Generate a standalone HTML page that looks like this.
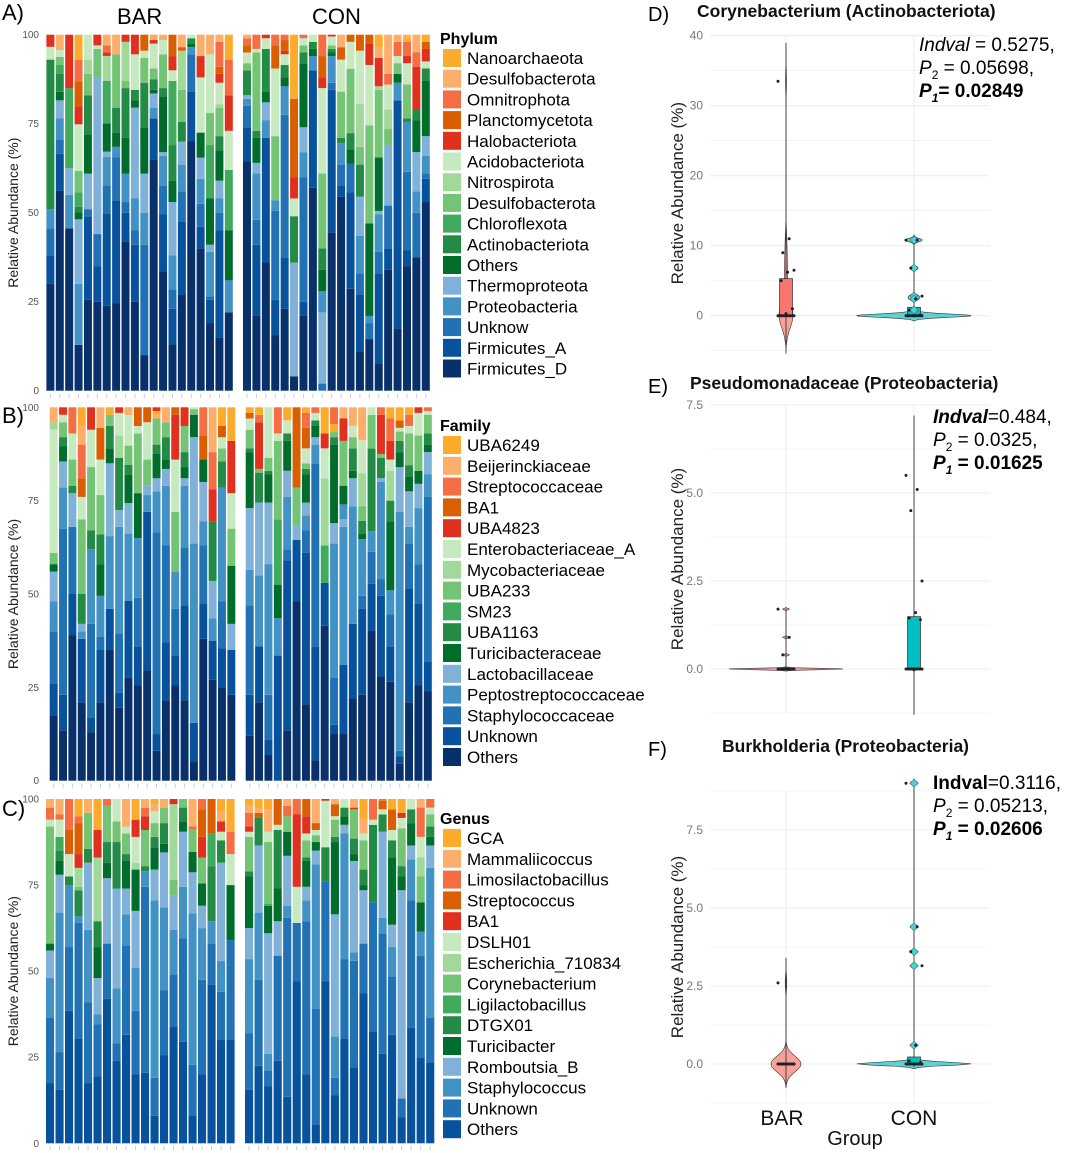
<!DOCTYPE html>
<html><head><meta charset="utf-8">
<style>
html,body{margin:0;padding:0;background:#fff;}
svg{display:block;font-family:"Liberation Sans",Arial,sans-serif;}
</style></head>
<body>
<svg id="fig" width="1065" height="1153" viewBox="0 0 1065 1153" xmlns="http://www.w3.org/2000/svg">
<rect width="1065" height="1153" fill="#fff"/>
</svg>
<script>
// ---------- DATA ----------
const phylumNames = ["Firmicutes_D","Firmicutes_A","Unknow","Proteobacteria","Thermoproteota","Others","Actinobacteriota","Chloroflexota","Desulfobacterota","Nitrospirota","Acidobacteriota","Halobacteriota","Planctomycetota","Omnitrophota","Desulfobacterota","Nanoarchaeota"];
const familyNames = ["Others","Unknown","Staphylococcaceae","Peptostreptococcaceae","Lactobacillaceae","Turicibacteraceae","UBA1163","SM23","UBA233","Mycobacteriaceae","Enterobacteriaceae_A","UBA4823","BA1","Streptococcaceae","Beijerinckiaceae","UBA6249"];
const genusNames = ["Others","Unknown","Staphylococcus","Romboutsia_B","Turicibacter","DTGX01","Ligilactobacillus","Corynebacterium","Escherichia_710834","DSLH01","BA1","Streptococcus","Limosilactobacillus","Mammaliicoccus","GCA"];
const groups = ["BAR","CON"];

const phylumBAR = [
[[0,30],[1,8],[2,7.6],[3,5.4],[6,42],[10,3.6],[11,3.4]],
[[0,56],[1,10.4],[2,4],[3,6],[4,5],[5,2.4],[6,5],[7,2.5],[8,2.3],[10,1.9],[14,4.3]],
[[0,45.6],[3,9.4],[4,7.5],[7,22.5],[11,15]],
[[0,12.8],[3,17],[4,18],[5,2],[6,1.5],[7,4],[8,6],[10,13],[11,5],[12,7],[13,6],[15,7]],
[[0,25.5],[1,23.5],[2,2],[4,10],[5,11],[6,11],[8,6],[9,4],[10,7]],
[[0,25],[1,10],[2,9],[4,44],[8,8],[10,1],[11,3]],
[[0,24],[1,26],[2,8],[3,8],[4,1.5],[5,8],[7,12],[9,7],[11,1],[13,2],[14,3]],
[[0,24.5],[1,29],[2,12],[3,3],[5,4],[6,7],[8,15],[14,5.5]],
[[0,42],[1,8],[2,3],[3,8],[5,10],[6,14],[8,2],[9,11],[11,2]],
[[0,25],[1,16],[2,4],[3,9],[4,25.5],[5,2],[6,3],[10,10],[11,5.5]],
[[0,10],[2,31],[3,9],[4,11],[5,13],[6,12.5],[8,7],[10,2],[12,4.5]],
[[0,65],[1,11.5],[3,3],[4,4],[5,1],[6,3],[8,3],[10,7],[11,1],[14,1],[15,0.5]],
[[0,33.5],[1,16],[2,8],[3,8.5],[4,1],[5,15.5],[6,2.5],[8,9.5],[10,4],[14,1.5]],
[[0,13],[1,10],[2,5.5],[3,9.5],[4,15],[5,6],[6,10],[7,18],[10,3],[11,4],[12,6]],
[[0,27],[1,20.5],[2,8.5],[3,7.5],[4,6.5],[6,5.5],[8,9],[9,11],[12,1],[14,3.5]],
[[0,70],[1,14],[2,10.5],[3,2],[5,1],[6,1.5],[10,1]],
[[0,40],[1,6],[2,6.5],[3,7],[4,6],[5,7],[10,15.5],[11,6],[14,6]],
[[0,19],[1,6.5],[2,1],[3,12.5],[4,2],[5,13],[7,15],[8,9],[10,16.5],[14,5.5]],
[[0,15],[1,30],[2,5],[3,4],[4,5],[5,8.5],[6,4],[8,8],[9,1],[10,6],[11,2.5],[12,2],[13,7],[14,2]],
[[0,22],[3,9],[5,14],[7,17],[10,11],[11,10],[13,10],[15,7]]
];
const phylumCON = [
[[0,64.5],[1,9.5],[2,6],[3,2],[4,1],[6,7],[8,2],[10,3],[12,2],[13,2],[14,1]],
[[0,21],[1,20],[2,7],[3,13],[4,3],[5,7],[6,2],[8,22],[10,1],[13,4]],
[[0,36],[1,35],[3,5],[4,5],[5,3],[6,12],[10,3],[11,1]],
[[0,15.5],[1,10],[2,25],[3,3],[8,18],[10,19],[12,6.5],[13,3]],
[[0,23],[1,14.5],[2,40],[3,8],[5,2.5],[6,3.5],[10,3],[11,1],[12,3],[13,1.5]],
[[0,4],[4,32],[6,13],[10,5],[11,6],[12,22],[15,18]],
[[0,21],[1,4],[2,35],[3,7],[4,7],[5,18],[6,3],[8,2],[10,2],[13,1]],
[[0,57],[1,33],[3,4],[5,2],[6,2],[10,2]],
[[2,2],[4,20],[3,6],[5,6],[6,6],[8,21],[10,24],[11,3],[12,6],[13,6]],
[[0,44.5],[1,40],[2,2],[3,7.5],[5,1],[6,1],[8,1],[10,2.5],[11,0.5]],
[[0,54.5],[1,3],[2,6],[3,6],[6,1.5],[8,13],[10,9],[12,3.5],[14,3.5]],
[[0,28.5],[1,27],[2,8],[5,4],[6,4.5],[8,18],[10,7.5],[12,2]],
[[0,11],[1,16],[2,6],[3,10.5],[4,11],[6,9],[8,5],[9,12],[10,15],[12,4.5]],
[[0,14.5],[2,4.5],[3,2],[5,26],[8,27.5],[10,17],[11,6],[12,2.5]],
[[0,7.5],[1,25.5],[2,6],[3,10.5],[4,1],[5,15],[8,19],[9,1],[11,8],[14,3],[15,3.5]],
[[0,34],[1,6],[2,12],[4,17],[8,4.5],[9,5.5],[10,7],[13,3],[14,11]],
[[0,17.5],[1,64],[3,5],[5,2.5],[8,3],[10,2],[13,4],[14,2]],
[[0,35],[1,4.5],[2,22],[3,14],[6,1],[8,9.5],[10,6],[11,2],[13,4],[15,1],[14,1]],
[[0,37.5],[2,12.5],[3,6],[4,11],[5,9],[6,3],[11,12],[13,4],[14,5]],
[[0,53],[1,6.5],[2,1.5],[3,5],[4,5.5],[5,15.5],[6,3.5],[10,2],[11,3.5],[12,2],[15,2]]
];
const familyBAR = [
[[0,17.5],[1,8.5],[2,14],[3,8],[4,8],[5,2],[8,3],[10,33],[9,2],[14,4]],
[[0,13.5],[1,9.5],[2,44.5],[3,11],[4,7],[5,4],[6,2.5],[8,4],[10,2],[11,2]],
[[0,39],[1,11],[2,18],[4,9],[6,2],[8,7],[10,7],[13,7]],
[[0,21],[1,17],[3,2],[4,2],[6,8],[8,20],[10,6],[12,5],[13,9],[14,5],[15,5]],
[[0,13],[1,4],[2,25],[3,20],[6,5],[8,17],[10,10],[11,6]],
[[0,21],[1,14],[2,3.5],[3,11],[5,8.5],[6,8],[8,10.5],[10,9.5],[12,8.5],[14,5.5]],
[[0,35],[1,11],[3,19.5],[4,19.5],[5,4],[6,6],[8,3],[15,2]],
[[0,19.5],[1,4],[2,16],[3,28.5],[4,4.5],[6,14],[9,6],[10,6],[11,1.5]],
[[0,27],[1,20],[3,17.5],[4,8],[5,7.5],[6,2.5],[8,5],[10,8],[14,2]],
[[0,25.5],[1,10.5],[2,13],[3,16],[5,12],[8,16],[10,2],[12,5]],
[[0,29.5],[1,42.5],[3,4.5],[4,2.5],[8,7],[10,10],[12,4]],
[[0,8],[1,4.5],[2,54],[3,11],[4,3.5],[5,6.5],[6,2.5],[8,7],[14,1],[15,1],[11,1]],
[[0,21.5],[1,15.5],[2,26],[3,16],[4,4.5],[5,2.5],[6,6],[8,4],[14,4]],
[[0,25.5],[1,8],[2,12.5],[3,10],[8,16],[10,14],[11,12],[12,2]],
[[0,21.5],[1,25.5],[2,15.5],[3,16.5],[4,2],[5,3],[6,4],[8,7],[11,5]],
[[0,5],[1,10.5],[3,48],[4,28.5],[5,6],[8,1.5],[10,0.5]],
[[0,38],[1,9.5],[2,15.5],[3,6.5],[4,10.5],[5,6],[12,6.5],[13,7.5]],
[[0,27],[1,10.5],[3,6],[4,10],[6,16],[11,8.5],[13,10],[14,12]],
[[0,25],[1,10.5],[2,12.5],[3,30.5],[6,7],[8,3.5],[10,3],[12,3],[15,5]],
[[0,23],[1,12],[4,7],[5,15.5],[8,10],[10,9.5],[11,14],[15,9]]
];
const familyCON = [
[[0,12],[1,11],[2,24],[3,9.5],[4,16.5],[5,15],[6,1],[8,5],[10,3],[12,1.5],[15,1.5]],
[[0,21],[1,15],[3,19],[4,19.5],[6,8],[8,1],[11,12.5],[13,2],[15,2]],
[[0,7],[1,4],[2,12],[3,35],[4,16.5],[5,7.5],[6,1],[8,3.5],[10,13.5]],
[[1,33.5],[3,10],[5,9],[7,17.5],[8,21],[10,2],[13,7]],
[[0,13.5],[1,45.5],[2,3],[3,14],[4,7],[5,8],[6,2],[10,3.5],[15,3.5]],
[[0,48],[1,16.5],[4,4],[8,10],[12,21.5]],
[[0,20.5],[1,40.5],[2,6],[3,4],[4,3.5],[5,7.5],[6,1.5],[8,1.5],[10,4],[12,5.5],[13,4],[15,1.5]],
[[0,5.5],[1,30.5],[2,49],[3,5],[4,2],[5,3],[6,1.5],[10,2],[13,1.5]],
[[0,41.5],[1,11.5],[7,10],[9,18],[10,8],[11,4],[15,7]],
[[0,12.5],[1,2.5],[2,12.5],[3,36],[4,5.5],[5,21],[6,2],[8,1.5],[15,2],[13,4.5]],
[[0,12.5],[1,18.5],[3,37],[4,2],[3,4],[5,5],[8,12],[11,6],[14,3]],
[[0,22],[1,20],[3,31.5],[4,7.5],[5,2],[6,6],[8,3],[10,3],[14,5]],
[[0,23.5],[1,23.5],[2,3.5],[3,15.5],[5,1.5],[6,3.5],[8,4],[9,9],[10,9],[14,9]],
[[0,40],[1,12.5],[2,8.5],[3,5.5],[6,22],[8,9],[10,2]],
[[0,28],[1,21.5],[2,4.5],[3,26],[4,1],[6,5.5],[8,1],[11,10.5],[13,2]],
[[0,26.5],[1,9.5],[2,8.5],[3,6.5],[5,18.5],[6,5.5],[9,8],[10,3],[11,5],[13,6],[15,3]],
[[0,4.5],[1,2],[2,1.5],[3,64],[4,12],[5,4],[6,3],[8,2.5],[10,1],[12,2],[15,3.5]],
[[0,21],[1,30.5],[2,12],[3,4.5],[4,9.5],[5,4],[6,3],[8,8.5],[10,2],[13,3],[15,2]],
[[0,25.5],[1,22],[2,10.5],[3,15],[4,6.5],[5,3.5],[8,9.5],[10,6],[11,1.5]],
[[0,24],[1,8],[2,44],[3,6],[4,6],[5,2],[6,3],[8,5],[10,1],[13,1]]
];
const genusBAR = [
[[0,17.5],[1,19],[2,11.5],[3,8],[4,2],[7,34],[9,2],[12,3.5],[13,2.5]],
[[0,15.5],[1,11],[2,40.5],[3,11],[4,4],[5,3],[6,4],[9,5],[12,1.5],[13,4.5]],
[[0,38.5],[1,18.5],[2,18],[5,2.5],[9,6.5],[11,7],[12,9]],
[[0,30.5],[1,33.5],[2,2],[5,7.5],[7,1],[8,5.5],[10,4],[11,9],[12,2],[14,5]],
[[0,17.5],[1,23.5],[2,21],[3,19.5],[5,4],[7,10.5],[13,4]],
[[0,19.5],[1,15],[2,3],[3,10.5],[4,9],[5,7.5],[8,18.5],[10,8],[14,9]],
[[0,42],[1,16],[3,19],[4,4.5],[5,6],[7,10.5],[12,2]],
[[0,24],[1,5],[2,16],[3,29],[5,13.5],[7,6],[9,6.5]],
[[0,31.5],[1,26],[2,9],[3,7.5],[4,8],[5,2],[7,6],[9,2],[13,8]],
[[0,20],[1,18.5],[2,12.5],[3,16.5],[4,12],[8,2],[9,7.5],[10,5],[14,6]],
[[0,20.5],[1,54],[2,4.5],[5,1.5],[7,10.5],[10,4],[12,2.5],[13,2.5]],
[[0,8],[1,11],[2,51.5],[3,9],[4,6.5],[5,3],[7,4],[9,3.5],[13,2],[14,1.5]],
[[0,25.5],[1,19],[2,24],[3,16],[4,2.5],[5,6],[7,4.5],[13,2.5]],
[[0,34],[1,15],[2,13],[3,10],[7,4.5],[8,22],[10,1.5]],
[[0,29.5],[1,30],[2,15],[3,16],[4,3],[5,4],[7,2.5]],
[[0,8],[1,15],[2,44.5],[3,12],[4,6],[7,6.5],[12,1],[13,8]],
[[0,20],[1,27.5],[2,15],[3,6.5],[4,6.5],[7,7.5],[10,6],[11,8],[12,3]],
[[0,46],[1,12],[2,6.5],[5,16],[6,9.5],[11,10]],
[[0,30],[1,14],[2,9],[3,28.5],[5,6.5],[9,2.5],[10,3],[13,3],[14,3.5]],
[[0,30],[1,29],[4,16],[9,9],[12,6.5],[14,9.5]]
];
const genusCON = [
[[0,15.5],[1,16.5],[2,21.5],[3,9],[4,15],[5,1.5],[7,10],[9,1.5],[10,1.5],[12,4],[13,2],[14,2]],
[[0,22.5],[1,25],[2,19.5],[3,19.5],[5,8],[11,1.5],[13,1.5],[14,2.5]],
[[0,16.5],[1,4.5],[2,5],[3,35],[4,8],[6,0.5],[7,18],[9,3],[13,6.5],[14,3]],
[[0,24],[1,30.5],[3,10],[4,9.5],[5,17],[9,1.5],[11,7.5]],
[[0,13.5],[1,52],[2,3.5],[3,14.5],[4,7],[7,4.5],[12,3],[13,2]],
[[0,47],[1,17],[9,10.5],[10,21],[12,4.5]],
[[0,20],[1,44.5],[2,6],[3,4],[4,7.5],[5,1],[7,5],[9,2],[10,5],[11,5]],
[[0,5.5],[1,33.5],[2,42],[3,4],[4,2.5],[7,2],[9,1.5],[11,2],[13,7]],
[[0,47],[1,29],[5,10],[9,13.5],[10,0.5]],
[[0,14],[1,5],[2,12],[3,35.5],[4,21],[5,1.5],[7,5],[9,1],[11,3.5],[13,1.5]],
[[0,30.5],[1,23],[2,36.5],[3,2.5],[4,2.5],[5,2.5],[9,2.5]],
[[0,22],[1,31],[2,2.5],[3,26.5],[4,2],[5,4.5],[7,8.5],[10,0.5],[13,2.5]],
[[0,43.5],[1,14.5],[3,15.5],[4,1.5],[5,4.5],[7,8.5],[9,2],[13,4],[14,6]],
[[0,32.5],[1,37.5],[5,22.5],[9,1.5],[12,6]],
[[0,26],[1,35],[2,4.5],[3,25],[5,5],[9,1.5],[11,2.5],[12,0.5]],
[[0,31.5],[1,17],[2,8.5],[3,6.5],[4,19.5],[5,5],[9,3],[11,6],[14,3]],
[[0,7.5],[1,5.5],[3,60.5],[4,4],[5,3],[7,11],[9,3],[10,1.5],[14,4]],
[[0,33.5],[1,37],[2,12],[3,4],[4,6.5],[5,4],[9,3]],
[[0,25],[1,29.5],[2,7],[4,8.5],[7,7.5],[8,5.5],[9,6],[12,8.5],[13,2.5]],
[[0,23.5],[1,13],[2,43.5],[3,6.5],[4,2.5],[5,3],[7,3.5],[9,2],[12,2.5]]
];
const stackTicks = [0,25,50,75,100];

// Indicator-species panels (relative abundance, %)
const coryBAR = [33.5,11,9,6.5,6.2,5,1,0.3,0,0,0,0,0,0,0,0,0,0,0,0];
const coryCON = [10.8,10.8,6.8,2.8,2.4,0.8,0.1,0,0,0,0,0,0,0,0,0,0,0,0,0];
const coryTicks = [0,10,20,30,40];
const pseuBAR = [1.7,0.9,0.4,0,0,0,0,0,0,0,0,0,0,0,0,0,0,0,0,0];
const pseuCON = [5.5,5.1,4.5,2.5,1.6,1.45,1.4,0,0,0,0,0,0,0,0,0,0,0,0,0];
const pseuTicks = [0,2.5,5,7.5];
const burkBAR = [2.6,0,0,0,0,0,0,0,0,0,0,0,0,0,0,0,0,0,0,0];
const burkCON = [9,4.4,3.6,3.15,0.6,0.1,0.05,0,0,0,0,0,0,0,0,0,0,0,0,0];
const burkTicks = [0,2.5,5,7.5];

// ---------- RENDER ----------
const NS="http://www.w3.org/2000/svg";
const svg=document.getElementById('fig');
function mk(tag,attrs,parent){const e=document.createElementNS(NS,tag);for(const k in attrs)e.setAttribute(k,attrs[k]);(parent||svg).appendChild(e);return e;}
function txt(s,attrs,parent){const e=mk('text',attrs,parent);e.textContent=s;return e;}

const col16=['#08306b','#08519c','#2171b5','#4292c6','#7fb1d9','#006d2c','#238b45','#41ab5d','#74c476','#a1d99b','#c7e9c0','#e0301e','#d95f02','#f46d43','#fdae6b','#fdab2c'];
const col15=col16.slice(1);

function stackPanel(cfg){
  const g=mk('g',{});
  
  
  const yScale=v=>cfg.y0-(cfg.y0-cfg.y100)*v/100;
  txt(cfg.label,{x:2,y:cfg.labelY,'font-size':22,fill:'#000'},g);
  stackTicks.forEach(t=>{
    const e=txt(String(t),{x:39,y:yScale(t)+3.5,'font-size':10,fill:'#555','text-anchor':'end'},g);
    
    
  });
  const yc=(cfg.y0+cfg.y100)/2;
  const yl=txt('Relative Abundance (%)',{x:0,y:0,'font-size':14,fill:'#222','text-anchor':'middle',transform:`translate(18,${yc}) rotate(-90)`},g);
  
  
  cfg.facets.forEach((f,fi)=>{
    const n=f.data.length, slot=(f.x1-f.x0)/n;
    f.data.forEach((bar,bi)=>{
      const tot=bar.reduce((s,p)=>s+p[1],0);
      let cum=0;
      const bx=f.x0+bi*slot+0.7;
      mk('line',{x1:bx+slot/2-0.7,x2:bx+slot/2-0.7,y1:cfg.y0+3,y2:cfg.y0+7,stroke:'#ccc','stroke-width':1},g);
      bar.forEach(p=>{
        const v=p[1]/tot*100;
        const ya=yScale(cum+v), yb=yScale(cum);
        const r=mk('rect',{x:bx,y:ya,width:slot-1.4,height:Math.max(0,yb-ya),fill:cfg.colors[p[0]]},g);
        
        
        cum+=v;
      });
    });
    if(cfg.showStrip){
      const s=txt(groups[fi],{x:(f.x0+f.x1)/2,y:24,'font-size':22,fill:'#000','text-anchor':'middle'},g);
      
      
    }
  });
  const lt=txt(cfg.legendTitle,{x:440,y:cfg.legY-14,'font-size':16,'font-weight':'bold',fill:'#000'},g);
  
  
  const nc=cfg.names.length;
  for(let k=0;k<nc;k++){
    const ci=nc-1-k;
    const cy=cfg.legY+k*cfg.legStep;
    const sw=mk('rect',{x:443,y:cy-9,width:18,height:18,fill:cfg.colors[ci]},g);
    
    
    const t=txt(cfg.names[ci],{x:467,y:cy+6,'font-size':17,fill:'#000'},g);
    
    
  }
}

stackPanel({name:'phylum-chart',label:'A)',labelY:20,y0:390.7,y100:34.7,showStrip:true,colors:col16,names:phylumNames,legendTitle:'Phylum',legY:58,legStep:20.7,
  facets:[{x0:45.7,x1:233.5,data:phylumBAR},{x0:242.3,x1:430.5,data:phylumCON}]});
stackPanel({name:'family-chart',label:'B)',labelY:423,y0:780.7,y100:407.3,showStrip:false,colors:col16,names:familyNames,legendTitle:'Family',legY:445,legStep:20.8,
  facets:[{x0:49,x1:236,data:familyBAR},{x0:245,x1:432.5,data:familyCON}]});
stackPanel({name:'genus-chart',label:'C)',labelY:816,y0:1143.3,y100:799,showStrip:false,colors:col15,names:genusNames,legendTitle:'Genus',legY:838,legStep:20.8,
  facets:[{x0:45.3,x1:235.3,data:genusBAR},{x0:244.3,x1:435,data:genusCON}]});

// ---------- violin panels ----------
function quantile(arr,q){const s=[...arr].sort((a,b)=>a-b);const p=(s.length-1)*q;const lo=Math.floor(p),hi=Math.ceil(p);return s[lo]+(s[hi]-s[lo])*(p-lo);}
function violinPanel(cfg){
  const g=mk('g',{});
  
  
  const ys=v=>cfg.yZero-v*cfg.pxPerUnit;
  const xL=710,xR=990, cx=[786,914];
  const step=cfg.ticks[1]-cfg.ticks[0];
  for(let v=cfg.ymin;v<=cfg.ymax+1e-6;v+=step/2){
    mk('line',{x1:xL,x2:xR,y1:ys(v),y2:ys(v),stroke:'#ececec','stroke-width':Math.abs((v/step)-Math.round(v/step))<1e-6?1:0.6},g);
  }
  cx.forEach(x=>mk('line',{x1:x,x2:x,y1:ys(cfg.ymax),y2:ys(cfg.ymin),stroke:'#ececec','stroke-width':1},g));
  cfg.ticks.forEach(t=>{
    const e=txt(cfg.fmt(t),{x:703,y:ys(t)+4,'font-size':12,fill:'#777','text-anchor':'end'},g);
    
    
  });
  const yc=(ys(cfg.ymin)+ys(cfg.ymax))/2;
  const yl=txt('Relative Abundance (%)',{x:0,y:0,'font-size':17,fill:'#222','text-anchor':'middle',transform:`translate(683,${yc}) rotate(-90)`},g);
  
  
  const tt=txt(cfg.title,{x:cfg.titleX,y:cfg.titleY,'font-size':17.5,'font-weight':'bold',fill:'#111'},g);
  
  
  txt(cfg.label,{x:648,y:cfg.titleY+4,'font-size':20,fill:'#000'},g);
  [cfg.bar,cfg.con].forEach((vals,gi)=>{
    const fill=gi===0?'#f8a19a':'#5cd2d5';
    const boxFill=gi===0?'#f8766d':'#00bfc4';
    const bw=cfg.bw[gi];
    const lo=Math.min(...vals)-3*bw, hi=Math.max(...vals)+3*bw;
    const N=240, dens=[];
    for(let i=0;i<=N;i++){const y=lo+(hi-lo)*i/N;let d=0;vals.forEach(v=>{d+=Math.exp(-0.5*((y-v)/bw)**2);});dens.push([y,d]);}
    const mx=Math.max(...dens.map(d=>d[1]));
    const hw=cfg.halfW[gi];
    let pts=dens.map(d=>`${cx[gi]+d[1]/mx*hw},${ys(d[0])}`);
    pts=pts.concat(dens.slice().reverse().map(d=>`${cx[gi]-d[1]/mx*hw},${ys(d[0])}`));
    const vp=mk('polygon',{points:pts.join(' '),fill:fill,stroke:'#333','stroke-width':0.6},g);
    
    
    mk('line',{x1:cx[gi],x2:cx[gi],y1:ys(cfg.lineLo[gi]),y2:ys(cfg.lineHi[gi]),stroke:'#444','stroke-width':1},g);
    const q1=quantile(vals,0.25), q3=quantile(vals,0.75);
    if(q3-q1>0){
      const b=mk('rect',{x:cx[gi]-6.5,y:ys(q3),width:13,height:ys(q1)-ys(q3),fill:boxFill,stroke:'#333','stroke-width':0.7},g);
      
      
    }
    vals.forEach((v,i)=>{
      const jit=((i*7)%11-5)*1.6;
      if(cfg.diamonds&&gi===1&&v>0.3){
        mk('polygon',{points:`${cx[gi]},${ys(v)-4} ${cx[gi]+4},${ys(v)} ${cx[gi]},${ys(v)+4} ${cx[gi]-4},${ys(v)}`,fill:'#4fd1d4',stroke:'#2a7f80','stroke-width':0.6},g);
      }
      const c=mk('circle',{cx:cx[gi]+jit,cy:ys(v),r:1.5,fill:'#222'},g);
      
      
    });
  });
  cfg.ann.forEach(a=>{
    const t=mk('text',{x:cfg.annX,y:a.y,'font-size':19,fill:'#000'},g);
    t.innerHTML=a.html;
    
    
  });
  return {g,ys,cx};
}
violinPanel({name:'corynebacterium-chart',label:'D)',title:'Corynebacterium (Actinobacteriota)',titleX:697,titleY:17,
  bar:coryBAR,con:coryCON,ticks:coryTicks,ymin:-5,ymax:40,yZero:315.7,pxPerUnit:7.0,fmt:t=>String(t),
  bw:[1.8,0.25],halfW:[7,57],lineLo:[-5.3,0],lineHi:[39,10.8],diamonds:true,annX:919,
  ann:[{y:51,html:'<tspan font-style="italic">Indval</tspan> = 0.5275,'},{y:74,html:'<tspan font-style="italic">P</tspan><tspan font-size="12" dy="5">2</tspan><tspan dy="-5"> = 0.05698,</tspan>'},{y:97,html:'<tspan font-weight="bold" font-style="italic">P</tspan><tspan font-size="12" dy="5" font-weight="bold" font-style="italic">1</tspan><tspan dy="-5" font-weight="bold">= 0.02849</tspan>'}]});
violinPanel({name:'pseudomonadaceae-chart',label:'E)',title:'Pseudomonadaceae (Proteobacteria)',titleX:690,titleY:389,
  bar:pseuBAR,con:pseuCON,ticks:pseuTicks,ymin:-1.25,ymax:7.5,yZero:669,pxPerUnit:35.2,fmt:t=>t.toFixed(1),
  bw:[0.02,0.03],halfW:[57,3],lineLo:[0,-1.3],lineHi:[1.7,7.2],diamonds:false,annX:933,
  ann:[{y:423,html:'<tspan font-weight="bold" font-style="italic">Indval</tspan>=0.484,'},{y:446,html:'<tspan font-style="italic">P</tspan><tspan font-size="12" dy="5">2</tspan><tspan dy="-5"> = 0.0325,</tspan>'},{y:469,html:'<tspan font-weight="bold" font-style="italic">P</tspan><tspan font-size="12" dy="5" font-weight="bold" font-style="italic">1</tspan><tspan dy="-5" font-weight="bold"> = 0.01625</tspan>'}]});
const f=violinPanel({name:'burkholderia-chart',label:'F)',title:'Burkholderia (Proteobacteria)',titleX:722,titleY:752,
  bar:burkBAR,con:burkCON,ticks:burkTicks,ymin:-1.25,ymax:8.75,yZero:1064,pxPerUnit:31.2,fmt:t=>t.toFixed(1),
  bw:[0.25,0.05],halfW:[15,57],lineLo:[-0.7,-0.1],lineHi:[3.4,9.1],diamonds:true,annX:933,
  ann:[{y:789,html:'<tspan font-weight="bold">Indval</tspan>=0.3116,'},{y:812,html:'<tspan font-style="italic">P</tspan><tspan font-size="12" dy="5">2</tspan><tspan dy="-5"> = 0.05213,</tspan>'},{y:835,html:'<tspan font-weight="bold" font-style="italic">P</tspan><tspan font-size="12" dy="5" font-weight="bold" font-style="italic">1</tspan><tspan dy="-5" font-weight="bold"> = 0.02606</tspan>'}]});
groups.forEach((gname,gi)=>{
  const t=txt(gname,{x:f.cx[gi]-(gi===0?4:0),y:1125,'font-size':21,fill:'#111','text-anchor':'middle'});
  
  
});
const gx=txt('Group',{x:855,y:1145,'font-size':20,fill:'#111','text-anchor':'middle'});


</script>
</body></html>
